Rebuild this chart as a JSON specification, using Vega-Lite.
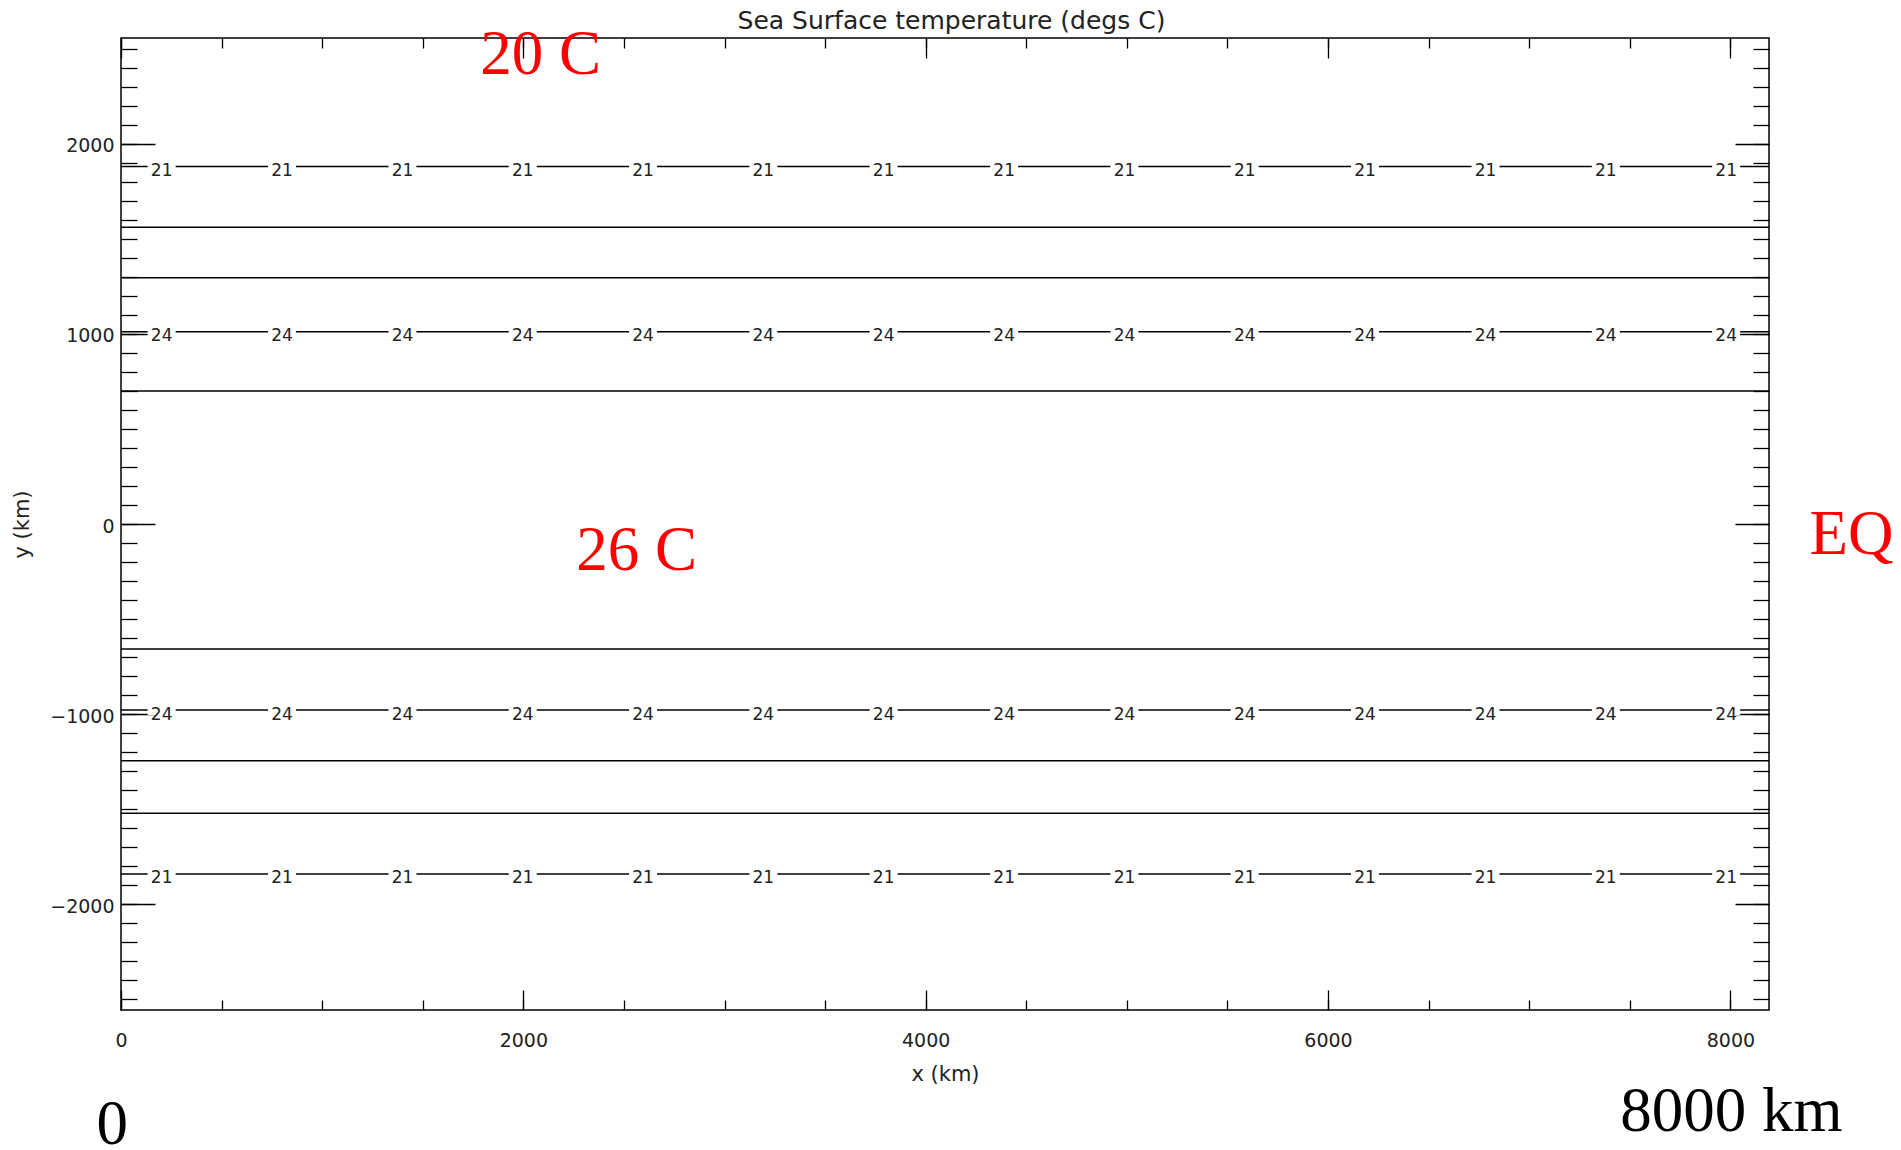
{
  "$schema": "https://vega.github.io/schema/vega-lite/v6.json",
  "width": 1648,
  "height": 972,
  "autosize": {"type": "none"},
  "padding": {"left": 121, "top": 38, "right": 132, "bottom": 140},
  "background": "white",
  "config": {
    "view": {"stroke": "black", "strokeWidth": 1.5},
    "axis": {
      "domain": false,
      "grid": false,
      "tickColor": "black",
      "tickWidth": 1.3,
      "labelFont": "DejaVu Sans",
      "labelFontSize": 19,
      "labelColor": "#222",
      "labelOverlap": false,
      "labelFlush": false,
      "titleFont": "DejaVu Sans",
      "titleFontSize": 21,
      "titleFontWeight": "normal",
      "titleColor": "#222"
    }
  },
  "datasets": {
    "contours": [
      {"level": 21, "y": 1881},
      {"level": 22, "y": 1561},
      {"level": 23, "y": 1296},
      {"level": 24, "y": 1012},
      {"level": 25, "y": 700},
      {"level": 25, "y": -658},
      {"level": 24, "y": -979},
      {"level": 23, "y": -1245},
      {"level": 22, "y": -1522},
      {"level": 21, "y": -1841}
    ],
    "labels": [
      {"label": "21", "x": 202, "y": 1881}, {"label": "21", "x": 800, "y": 1881}, {"label": "21", "x": 1399, "y": 1881}, {"label": "21", "x": 1997, "y": 1881}, {"label": "21", "x": 2595, "y": 1881}, {"label": "21", "x": 3193, "y": 1881}, {"label": "21", "x": 3791, "y": 1881}, {"label": "21", "x": 4390, "y": 1881}, {"label": "21", "x": 4988, "y": 1881}, {"label": "21", "x": 5586, "y": 1881}, {"label": "21", "x": 6184, "y": 1881}, {"label": "21", "x": 6783, "y": 1881}, {"label": "21", "x": 7381, "y": 1881}, {"label": "21", "x": 7979, "y": 1881},
      {"label": "24", "x": 202, "y": 1012}, {"label": "24", "x": 800, "y": 1012}, {"label": "24", "x": 1399, "y": 1012}, {"label": "24", "x": 1997, "y": 1012}, {"label": "24", "x": 2595, "y": 1012}, {"label": "24", "x": 3193, "y": 1012}, {"label": "24", "x": 3791, "y": 1012}, {"label": "24", "x": 4390, "y": 1012}, {"label": "24", "x": 4988, "y": 1012}, {"label": "24", "x": 5586, "y": 1012}, {"label": "24", "x": 6184, "y": 1012}, {"label": "24", "x": 6783, "y": 1012}, {"label": "24", "x": 7381, "y": 1012}, {"label": "24", "x": 7979, "y": 1012},
      {"label": "24", "x": 202, "y": -979}, {"label": "24", "x": 800, "y": -979}, {"label": "24", "x": 1399, "y": -979}, {"label": "24", "x": 1997, "y": -979}, {"label": "24", "x": 2595, "y": -979}, {"label": "24", "x": 3193, "y": -979}, {"label": "24", "x": 3791, "y": -979}, {"label": "24", "x": 4390, "y": -979}, {"label": "24", "x": 4988, "y": -979}, {"label": "24", "x": 5586, "y": -979}, {"label": "24", "x": 6184, "y": -979}, {"label": "24", "x": 6783, "y": -979}, {"label": "24", "x": 7381, "y": -979}, {"label": "24", "x": 7979, "y": -979},
      {"label": "21", "x": 202, "y": -1841}, {"label": "21", "x": 800, "y": -1841}, {"label": "21", "x": 1399, "y": -1841}, {"label": "21", "x": 1997, "y": -1841}, {"label": "21", "x": 2595, "y": -1841}, {"label": "21", "x": 3193, "y": -1841}, {"label": "21", "x": 3791, "y": -1841}, {"label": "21", "x": 4390, "y": -1841}, {"label": "21", "x": 4988, "y": -1841}, {"label": "21", "x": 5586, "y": -1841}, {"label": "21", "x": 6184, "y": -1841}, {"label": "21", "x": 6783, "y": -1841}, {"label": "21", "x": 7381, "y": -1841}, {"label": "21", "x": 7979, "y": -1841}
    ],
    "notes_red": [
      {"text": "20 C", "x": 2086, "y": 2365},
      {"text": "26 C", "x": 2563, "y": -242},
      {"text": "EQ", "x": 8602, "y": -158}
    ],
    "notes_black": [
      {"text": "0", "x": -44, "y": -3262},
      {"text": "8000 km", "x": 8005, "y": -3193}
    ]
  },
  "resolve": {"axis": {"x": "independent", "y": "independent"}},
  "layer": [
    {
      "data": {"name": "contours"},
      "mark": {"type": "rule", "color": "black", "strokeWidth": 1.5},
      "encoding": {
        "x": {"datum": 0, "type": "quantitative", "scale": {"domain": [0, 8192], "nice": false, "zero": false},
          "axis": {"orient": "bottom", "values": [0, 2000, 4000, 6000, 8000], "tickSize": -20, "labelPadding": 41, "format": "d", "title": "x (km)", "titleX": 824, "titleY": 64, "titleBaseline": "middle", "titleAlign": "center"}},
        "x2": {"datum": 8192},
        "y": {"field": "y", "type": "quantitative", "scale": {"domain": [-2557, 2557], "nice": false, "zero": false},
          "axis": {"orient": "left", "values": [-2000, -1000, 0, 1000, 2000], "tickSize": -34, "labelPadding": 41, "labelOffset": 2, "format": "d", "title": "y (km)", "titleX": -99, "titleY": 486, "titleAngle": -90, "titleBaseline": "middle", "titleAlign": "center"}}
      }
    },
    {
      "data": {"name": "labels"},
      "mark": {"type": "point", "shape": "M-1,-0.35L1,-0.35L1,0.35L-1,0.35Z", "size": 784, "filled": true, "fill": "white", "opacity": 1, "strokeWidth": 0},
      "encoding": {
        "x": {"field": "x", "type": "quantitative", "scale": {"domain": [0, 8192], "nice": false, "zero": false},
          "axis": {"orient": "bottom", "values": [0, 500, 1000, 1500, 2000, 2500, 3000, 3500, 4000, 4500, 5000, 5500, 6000, 6500, 7000, 7500, 8000], "tickSize": -10, "labels": false, "title": null}},
        "y": {"field": "y", "type": "quantitative", "scale": {"domain": [-2557, 2557], "nice": false, "zero": false},
          "axis": {"orient": "left", "values": [-2500, -2400, -2300, -2200, -2100, -2000, -1900, -1800, -1700, -1600, -1500, -1400, -1300, -1200, -1100, -1000, -900, -800, -700, -600, -500, -400, -300, -200, -100, 0, 100, 200, 300, 400, 500, 600, 700, 800, 900, 1000, 1100, 1200, 1300, 1400, 1500, 1600, 1700, 1800, 1900, 2000, 2100, 2200, 2300, 2400, 2500], "tickSize": -16, "labels": false, "title": null}}
      }
    },
    {
      "data": {"name": "labels"},
      "mark": {"type": "text", "font": "DejaVu Sans", "fontSize": 17, "color": "#222", "align": "center", "baseline": "middle", "dy": 4.5},
      "encoding": {
        "x": {"field": "x", "type": "quantitative", "scale": {"domain": [0, 8192], "nice": false, "zero": false},
          "axis": {"orient": "top", "values": [0, 2000, 4000, 6000, 8000], "tickSize": -20, "labels": false, "title": "Sea Surface temperature (degs C)", "titleFontSize": 25, "titleX": 830, "titleY": -10, "titleBaseline": "alphabetic", "titleAlign": "center", "titleAngle": 0}},
        "y": {"field": "y", "type": "quantitative", "scale": {"domain": [-2557, 2557], "nice": false, "zero": false},
          "axis": {"orient": "right", "values": [-2000, -1000, 0, 1000, 2000], "tickSize": -34, "labels": false, "title": null}},
        "text": {"field": "label"}
      }
    },
    {
      "data": {"name": "notes_red"},
      "mark": {"type": "text", "font": "Liberation Serif", "fontSize": 63, "color": "#ff0000", "align": "center", "baseline": "alphabetic"},
      "encoding": {
        "x": {"field": "x", "type": "quantitative", "scale": {"domain": [0, 8192], "nice": false, "zero": false},
          "axis": {"orient": "top", "values": [0, 500, 1000, 1500, 2000, 2500, 3000, 3500, 4000, 4500, 5000, 5500, 6000, 6500, 7000, 7500, 8000], "tickSize": -10, "labels": false, "title": null}},
        "y": {"field": "y", "type": "quantitative", "scale": {"domain": [-2557, 2557], "nice": false, "zero": false},
          "axis": {"orient": "right", "values": [-2500, -2400, -2300, -2200, -2100, -2000, -1900, -1800, -1700, -1600, -1500, -1400, -1300, -1200, -1100, -1000, -900, -800, -700, -600, -500, -400, -300, -200, -100, 0, 100, 200, 300, 400, 500, 600, 700, 800, 900, 1000, 1100, 1200, 1300, 1400, 1500, 1600, 1700, 1800, 1900, 2000, 2100, 2200, 2300, 2400, 2500], "tickSize": -16, "labels": false, "title": null}},
        "text": {"field": "text"}
      }
    },
    {
      "data": {"name": "notes_black"},
      "mark": {"type": "text", "font": "Liberation Serif", "fontSize": 63, "color": "black", "align": "center", "baseline": "alphabetic"},
      "encoding": {
        "x": {"field": "x", "type": "quantitative", "scale": {"domain": [0, 8192], "nice": false, "zero": false}, "axis": null},
        "y": {"field": "y", "type": "quantitative", "scale": {"domain": [-2557, 2557], "nice": false, "zero": false}, "axis": null},
        "text": {"field": "text"}
      }
    }
  ]
}
